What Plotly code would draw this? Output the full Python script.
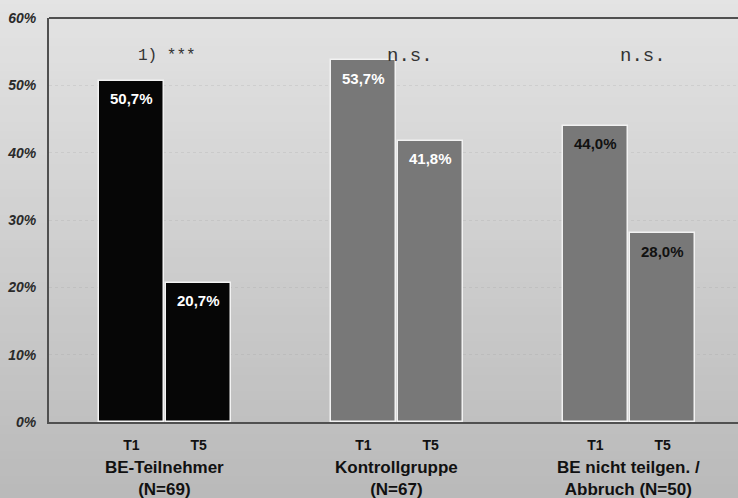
import plotly.graph_objects as go

groups = ["BE-Teilnehmer<br>(N=69)", "Kontrollgruppe<br>(N=67)", "BE nicht teilgen. /<br>Abbruch (N=50)"]
times = ["T1", "T5"]
t1_values = [50.7, 53.7, 44.0]
t5_values = [20.7, 41.8, 28.0]
significance = ["1) ***", "n.s.", "n.s."]
bar_colors = ["#060606", "#787878", "#787878"]
label_colors = ["white", "white", "#111111"]
y_ticks = [0, 10, 20, 30, 40, 50, 60]

OFF = 0.145
W = 0.28

fig = go.Figure()

# background gradient
n = 60
y0p, y1p = -80 / 404, 1 + 22 / 404
shapes = []
for i in range(n):
    f = i / (n - 1)
    c = int(228 - (228 - 186) * f)
    a = y1p - (y1p - y0p) * i / n
    b = y1p - (y1p - y0p) * (i + 1) / n
    shapes.append(dict(type="rect", xref="paper", yref="paper", x0=-0.1, x1=1.1,
                       y0=b, y1=a + 0.002, fillcolor=f"rgb({c},{c},{c})",
                       line=dict(width=0), layer="below"))
shapes.append(dict(type="line", xref="paper", yref="paper", x0=0, x1=1, y0=1, y1=1,
                   line=dict(color="#505050", width=2)))

xs_all, ys_all, cols, tickvals, ticktext = [], [], [], [], []
for gi in range(len(groups)):
    for ti, vals in enumerate([t1_values, t5_values]):
        xs_all.append(gi + (-OFF if ti == 0 else OFF))
        ys_all.append(vals[gi])
        cols.append(bar_colors[gi])
        tickvals.append(gi + (-OFF if ti == 0 else OFF))
        ticktext.append("<b>" + times[ti] + "</b>")

fig.add_trace(go.Bar(x=xs_all, y=ys_all, width=W, marker=dict(color=cols, line=dict(color="#f2f2f2", width=1.5)),
                     hoverinfo="skip", showlegend=False))

annotations = []
for gi in range(len(groups)):
    for ti, vals in enumerate([t1_values, t5_values]):
        annotations.append(dict(x=gi + (-OFF if ti == 0 else OFF), y=vals[gi], xref="x", yref="y",
                                text="<b>" + f"{vals[gi]:.1f}%".replace(".", ",") + "</b>", showarrow=False,
                                yshift=-18, font=dict(family="Liberation Sans", size=15, color=label_colors[gi]),
                                xanchor="center", yanchor="middle"))
    annotations.append(dict(x=gi, y=-0.14, xref="x", yref="paper", text="<b>" + groups[gi] + "</b>",
                            showarrow=False, font=dict(family="Liberation Sans", size=17, color="#111111"),
                            xanchor="center", yanchor="middle"))
sig_x = [0.01, 0.055, 0.06]
sig_size = [16, 19, 19]
for gi in range(len(groups)):
    annotations.append(dict(x=gi + sig_x[gi], y=54.4, xref="x", yref="y", text=significance[gi], showarrow=False,
                            font=dict(family="Liberation Mono", size=sig_size[gi], color="#333333"),
                            xanchor="center", yanchor="middle"))

fig.update_layout(
    width=738, height=498,
    margin=dict(l=49, r=0, t=18, b=76),
    paper_bgcolor="rgba(0,0,0,0)", plot_bgcolor="rgba(0,0,0,0)",
    shapes=shapes, annotations=annotations,
    bargap=0,
    xaxis=dict(range=[-0.5, 2.47], tickvals=tickvals, ticktext=ticktext, showgrid=False, zeroline=False,
               showline=True, linecolor="#505050", linewidth=2, ticks="",
               tickfont=dict(family="Liberation Sans", size=14, color="#111111"), ticklabelstandoff=9),
    yaxis=dict(range=[0, 60], tickvals=y_ticks, ticktext=[f"<b><i>{v}%</i></b>" for v in y_ticks],
               showgrid=True, gridcolor="rgba(150,150,150,0.2)", griddash="dot", gridwidth=1,
               zeroline=False, showline=True, linecolor="#505050", linewidth=2, ticks="",
               tickfont=dict(family="Liberation Sans", size=14, color="#2a2a2a"), ticklabelstandoff=8),
)

fig.write_html("out.html", config={"displayModeBar": False},
               post_script="document.body.style.margin='0';document.body.style.overflow='hidden';")
